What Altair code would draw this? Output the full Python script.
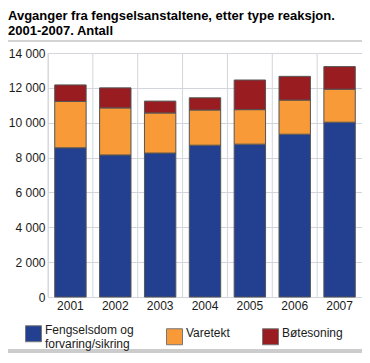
import altair as alt
import pandas as pd

years = ["2001", "2002", "2003", "2004", "2005", "2006", "2007"]
categories = ["Fengselsdom og forvaring/sikring", "Varetekt", "Bøtesoning"]
fengselsdom = [8560, 8150, 8260, 8710, 8770, 9340, 10030]
varetekt = [2660, 2700, 2300, 2020, 1980, 1960, 1890]
botesoning = [950, 1150, 680, 700, 1700, 1360, 1300]
colors = ["#233f8f", "#f79a37", "#981c20"]
y_ticks = [0, 2000, 4000, 6000, 8000, 10000, 12000, 14000]
title_lines = ["Avganger fra fengselsanstaltene, etter type reaksjon.", "2001-2007. Antall"]

series = [fengselsdom, varetekt, botesoning]
rows = []
for ci, (cat, vals) in enumerate(zip(categories, series)):
    for y, v in zip(years, vals):
        rows.append({"year": y, "category": cat, "value": v, "order": ci})
df = pd.DataFrame(rows)
year_df = pd.DataFrame({"year": years})

grid_color = "#d2d5dc"
font = "Liberation Sans"
W, H = 314, 244
pad_inner, pad_outer = 0.3, 0.15
step = W / (len(years) - pad_inner + 2 * pad_outer)

label_expr = (
    f"datum.label == '{categories[0]}' ? ['Fengselsdom og', 'forvaring/sikring'] : datum.label"
)

x_scale = alt.Scale(paddingInner=pad_inner, paddingOuter=pad_outer)
x_axis = alt.Axis(
    title=None, labelAngle=0, domain=False, ticks=False, labelPadding=3,
    labelFontSize=12, grid=False, labelColor="#1a1a1a", labelFont=font,
)

vgrid = alt.Chart(year_df).mark_rule(
    color=grid_color, strokeWidth=1, xOffset=-pad_outer * step
).encode(
    x=alt.X("year:N", sort=years, scale=x_scale, bandPosition=0, axis=x_axis),
)

bars = alt.Chart(df).mark_bar(stroke="#555555", strokeWidth=1).encode(
    x=alt.X("year:N", sort=years, scale=x_scale, axis=x_axis),
    y=alt.Y(
        "value:Q",
        stack="zero",
        scale=alt.Scale(domain=[0, 14000]),
        axis=alt.Axis(
            title=None, values=y_ticks,
            labelExpr="replace(format(datum.value, ','), ',', ' ')",
            domain=False, ticks=False, labelPadding=3, labelFontSize=12,
            gridColor=grid_color, labelColor="#1a1a1a", labelFont=font,
        ),
    ),
    color=alt.Color(
        "category:N",
        sort=categories,
        scale=alt.Scale(domain=categories, range=colors),
        legend=alt.Legend(
            orient="none", legendX=-23, legendY=272, direction="horizontal",
            title=None, symbolType="square", symbolSize=256,
            symbolStrokeColor="#777777", symbolStrokeWidth=1,
            labelFontSize=12, labelFont=font, labelColor="#1a1a1a",
            labelOffset=3, columnPadding=30, columns=3, labelLimit=200,
            labelExpr=label_expr, labelBaseline="alphabetic",
        ),
    ),
    order=alt.Order("order:Q"),
)

deco = pd.DataFrame({"y": [-12, 298], "w": [1.5, 4], "c": ["#c4c4c4", "#cccccc"]})
title_df = pd.DataFrame({"k": [0]})
title_text = alt.Chart(title_df).mark_text(
    text=title_lines, align="left", baseline="top", fontSize=13,
    fontWeight="bold", lineHeight=15, font=font, color="#000000",
).encode(x=alt.value(-40), y=alt.value(-43))

lines = alt.Chart(deco).mark_rule(clip=False).encode(
    x=alt.value(-40), x2=alt.value(W),
    y=alt.Y("y:Q", scale=None),
    strokeWidth=alt.StrokeWidth("w:Q", scale=None),
    color=alt.Color("c:N", scale=None),
)

chart = alt.layer(vgrid, bars, title_text, lines).properties(
    width=W, height=H,
    autosize=alt.AutoSizeParams(type="none"),
    padding={"left": 40, "top": 45, "right": 0, "bottom": 58},
).configure_view(stroke=grid_color).configure(font=font)

chart.save("out.html", embed_options={"renderer": "svg", "actions": False})
